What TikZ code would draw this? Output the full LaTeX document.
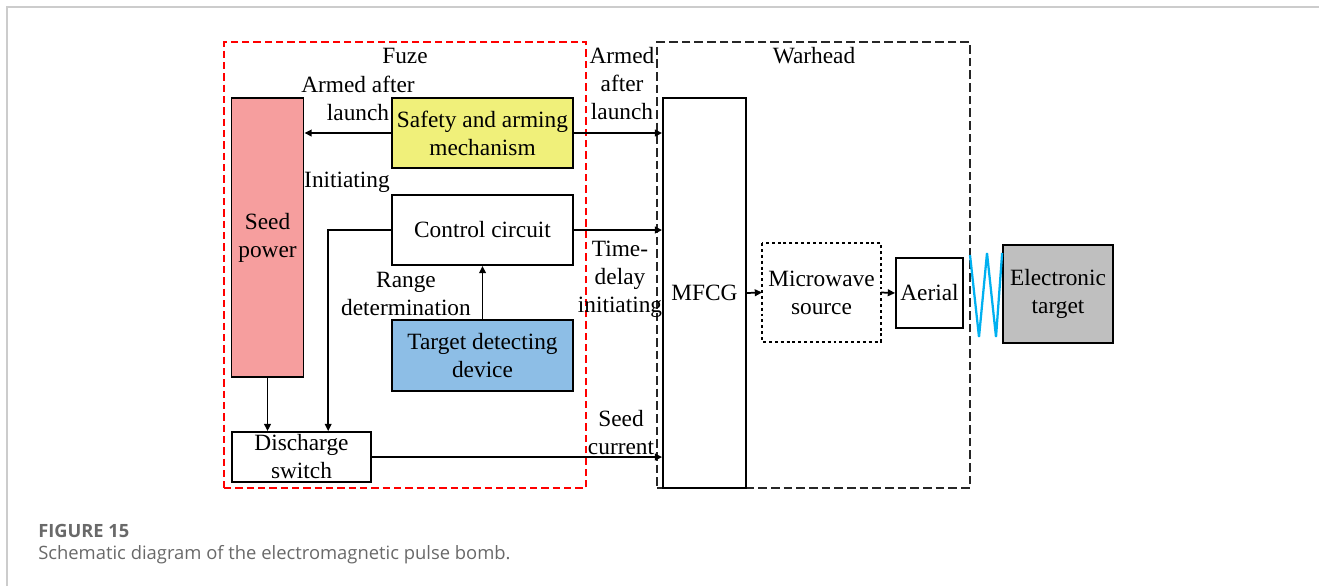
\documentclass[tikz,border=0pt]{standalone}
\usepackage{fontspec}
\setmainfont{Liberation Serif}
\newfontfamily\capfont{Open Sans}
\usetikzlibrary{arrows.meta}
\definecolor{seedpink}{RGB}{246,158,158}
\definecolor{safyellow}{RGB}{240,240,122}
\definecolor{tgtblue}{RGB}{141,190,230}
\definecolor{tgray}{RGB}{191,191,191}
\definecolor{zigblue}{RGB}{0,176,240}
\definecolor{framegray}{RGB}{204,204,204}
\definecolor{capgray}{RGB}{105,105,105}
\tikzset{
  box/.style={draw=black, line width=1.3pt, inner sep=0pt, align=center, font=\rmfamily\fontsize{17.5}{21}\selectfont},
  lbl/.style={inner sep=0pt, align=center, font=\rmfamily\fontsize{17.5}{21}\selectfont},
  arr/.style={line width=1.3pt, -{Triangle[length=5.5pt,width=5pt]}},
  redframe/.style={draw=red, line width=1.1pt, dash pattern=on 5.5pt off 3pt},
  blackframe/.style={draw=black!85, line width=1.2pt, dash pattern=on 6.5pt off 3pt},
}
\begin{document}
\begin{tikzpicture}[x=0.75pt,y=-0.75pt]
\useasboundingbox (0,0) rectangle (1319,586);
% page frame
\draw[framegray, line width=1.5pt] (7,586) -- (7,7) -- (1319,7);
% group frames
\node[redframe, minimum width=362*0.75pt, minimum height=446*0.75pt, inner sep=0pt] (fuze) at (405,265) {};
\node[blackframe, minimum width=313*0.75pt, minimum height=446*0.75pt, inner sep=0pt] (war) at (813.5,265) {};
\node[lbl] (fuzel) at (405,56) {Fuze};
\node[lbl] (warl) at (814,56) {Warhead};
% boxes
\node[box, fill=seedpink, minimum width=72*0.75pt, minimum height=279*0.75pt] (seed) at (267.5,237.5) {Seed\\power};
\node[box, fill=safyellow, minimum width=181*0.75pt, minimum height=70*0.75pt] (saf) at (482.5,133) {Safety and arming\\mechanism};
\node[box, minimum width=181*0.75pt, minimum height=70*0.75pt] (ctrl) at (482.5,230) {Control circuit};
\node[box, fill=tgtblue, minimum width=181*0.75pt, minimum height=71*0.75pt] (tgt) at (482.5,355.5) {Target detecting\\device};
\node[box, minimum width=139*0.75pt, minimum height=50*0.75pt] (dis) at (301.5,457) {Discharge\\switch};
\node[box, minimum width=83*0.75pt, minimum height=390*0.75pt] (mfcg) at (704.5,293) {MFCG};
\node[box, draw=none, minimum width=117*0.75pt, minimum height=97*0.75pt] (micro) at (821.5,292.5) {Microwave\\source};
\draw[line width=1.3pt, dash pattern=on 2.2pt off 2.2pt] (micro.north west) rectangle (micro.south east);
\node[box, minimum width=67*0.75pt, minimum height=70*0.75pt] (aer) at (929.5,293) {Aerial};
\node[box, fill=tgray, minimum width=110*0.75pt, minimum height=98*0.75pt] (etgt) at (1058,294) {Electronic\\target};
% labels
\node[lbl] (l1) at (358,98) {Armed after\\launch};
\node[lbl] (l2) at (347,182) {Initiating};
\node[lbl] (l3) at (622,84) {Armed\\after\\launch};
\node[lbl] (l4) at (620,279) {Time-\\delay\\initiating};
\node[lbl] (l5) at (406,293.5) {Range\\determination};
\node[lbl] (l6) at (621,432.5) {Seed\\current};
% connectors
\draw[arr] (saf.west) -- (saf.west -| seed.east);
\draw[arr] (saf.east) -- (saf.east -| mfcg.west);
\draw[arr] (ctrl.east) -- (ctrl.east -| mfcg.west);
\draw[arr] (ctrl.west) -| ([xshift=97*0.75pt]dis.north west);
\draw[arr] (seed.south) -- (seed.south |- dis.north);
\draw[arr] (tgt.north) -- (ctrl.south);
\draw[arr] (dis.east) -- (dis.east -| mfcg.west);
\draw[arr] (mfcg.east) -- (micro.west);
\draw[arr] (micro.east) -- (aer.west);
% radiation zigzag
\draw[zigblue, line width=1.7pt, line join=bevel] (970,255) -- (979,337) -- (987,253) -- (996,337) -- (etgt.north west |- 0,253);
% caption
\node[anchor=base west, inner sep=0pt, text=capgray, font=\capfont\fontsize{13.7}{16}\selectfont\bfseries] (cap1) at (38,537) {FIGURE 15};
\node[anchor=base west, inner sep=0pt, text=capgray, font=\capfont\fontsize{13.8}{16}\selectfont] (cap2) at (38,559) {Schematic diagram of the electromagnetic pulse bomb.};
\end{tikzpicture}
\end{document}
